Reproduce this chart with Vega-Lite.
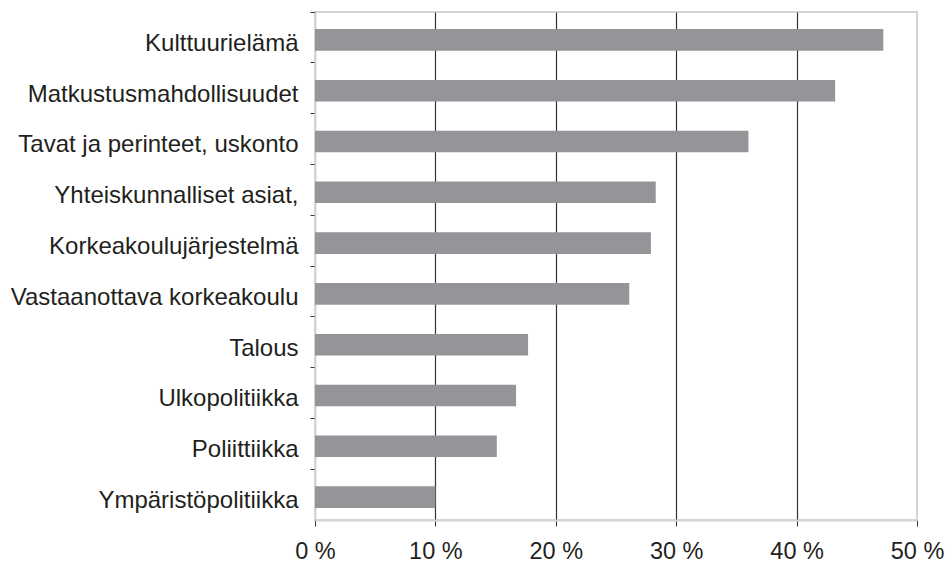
{
  "$schema": "https://vega.github.io/schema/vega-lite/v6.json",
  "width": 602,
  "height": 508,
  "autosize": "none",
  "padding": {"left": 315, "top": 12, "right": 30, "bottom": 44},
  "background": "white",
  "config": {
    "view": {"stroke": "#d4d4d4", "strokeWidth": 2},
    "font": "Liberation Sans"
  },
  "data": {
    "values": [
      {"aihe": "Kulttuurielämä", "osuus": 47.2},
      {"aihe": "Matkustusmahdollisuudet", "osuus": 43.2},
      {"aihe": "Tavat ja perinteet, uskonto", "osuus": 36.0},
      {"aihe": "Yhteiskunnalliset asiat,", "osuus": 28.3},
      {"aihe": "Korkeakoulujärjestelmä", "osuus": 27.9},
      {"aihe": "Vastaanottava korkeakoulu", "osuus": 26.1},
      {"aihe": "Talous", "osuus": 17.7},
      {"aihe": "Ulkopolitiikka", "osuus": 16.7},
      {"aihe": "Poliittiikka", "osuus": 15.1},
      {"aihe": "Ympäristöpolitiikka", "osuus": 10.0}
    ]
  },
  "mark": {"type": "bar", "color": "#939598", "height": {"band": 0.425}, "yOffset": 2.5},
  "encoding": {
    "y": {
      "field": "aihe",
      "type": "nominal",
      "sort": null,
      "scale": {"paddingInner": 0, "paddingOuter": 0},
      "axis": {
        "title": null,
        "bandPosition": 0,
        "domainColor": "#d4d4d4",
        "domainWidth": 2,
        "tickColor": "#333333",
        "tickSize": 5,
        "tickWidth": 1,
        "labelFontSize": 24,
        "labelColor": "#231f20",
        "labelPadding": 12,
        "labelBaseline": "alphabetic",
        "labelOffset": 13.3,
        "labelLimit": 400,
        "grid": false
      }
    },
    "x": {
      "field": "osuus",
      "type": "quantitative",
      "scale": {"domain": [0, 50], "nice": false},
      "axis": {
        "title": null,
        "values": [0, 10, 20, 30, 40, 50],
        "labelExpr": "datum.value + ' %'",
        "labelFontSize": 23.5,
        "labelColor": "#231f20",
        "labelBaseline": "alphabetic",
        "labelPadding": 32,
        "labelFlush": false,
        "tickSize": 6,
        "tickColor": "#333333",
        "domainColor": "#d4d4d4",
        "domainWidth": 2,
        "grid": true,
        "gridColor": {"condition": {"test": "datum.value == 0 || datum.value == 50", "value": "transparent"}, "value": "#333333"},
        "gridWidth": 1.2
      }
    }
  }
}
